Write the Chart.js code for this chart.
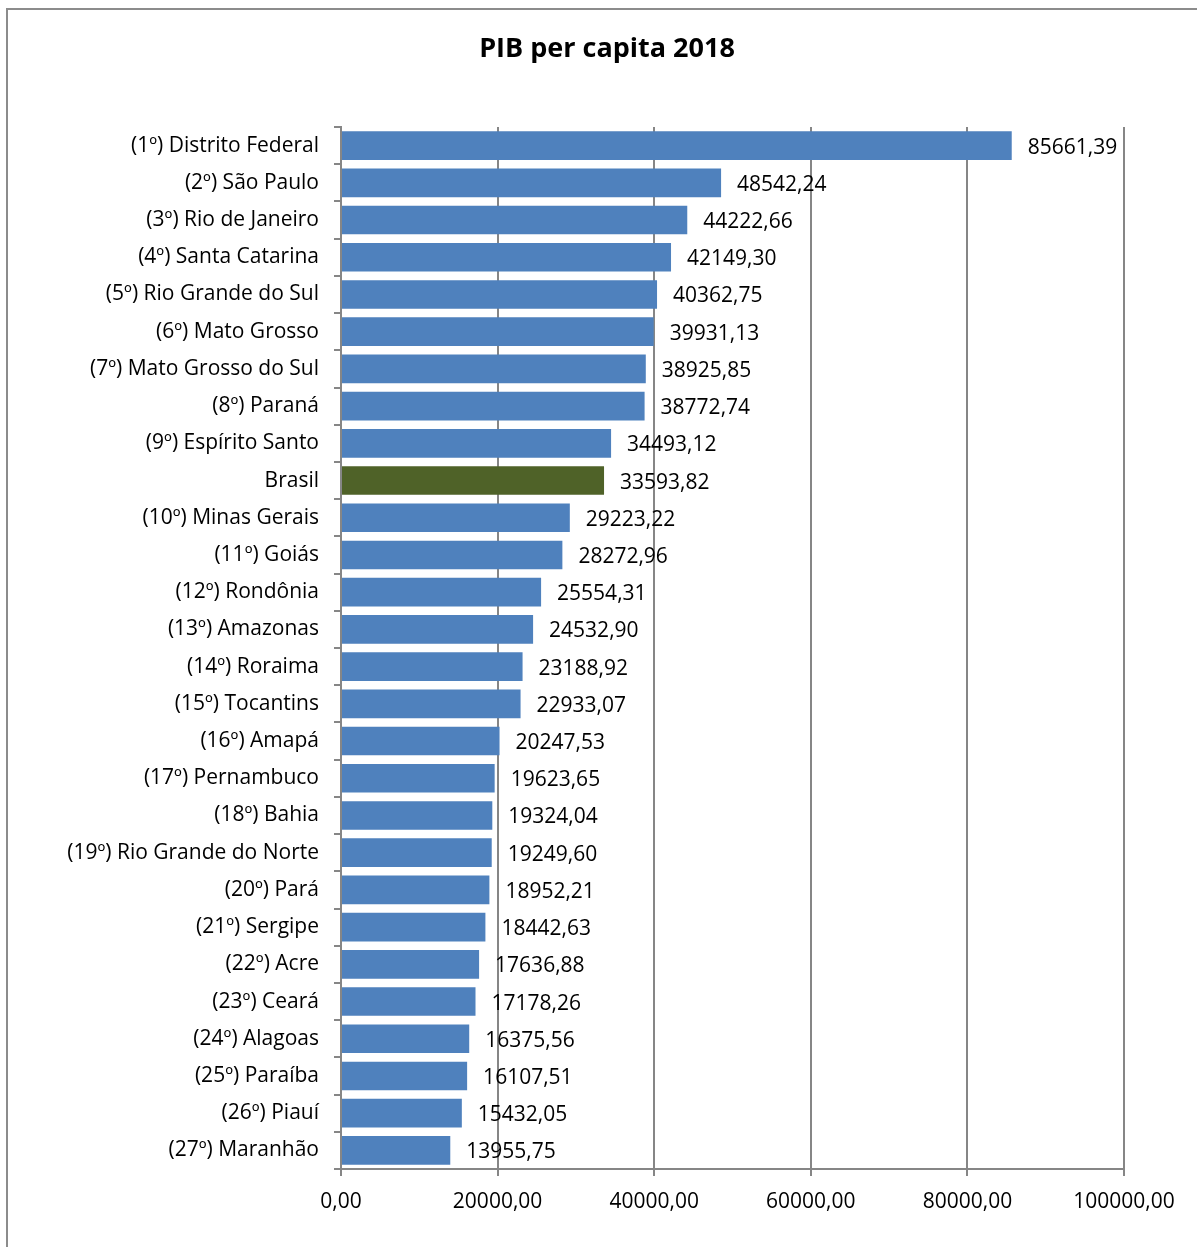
<!DOCTYPE html>
<html>
<head>
<meta charset="utf-8">
<script src="https://cdn.jsdelivr.net/npm/chart.js@4/dist/chart.umd.min.js"></script>
<style>
  html, body { margin: 0; padding: 0; background: #fff; overflow: hidden; }
  #wrap { position: relative; width: 1197px; height: 1247px; }
  #frame { position: absolute; left: 6px; top: 8px; width: 1200px; height: 1260px; border: 2px solid #8c8c8c; box-sizing: border-box; pointer-events: none; }
  canvas { position: absolute; left: 0; top: 0; }
</style>
</head>
<body>
<div id="wrap">
  <canvas id="chart" width="1197" height="1247"></canvas>
  <div id="frame"></div>
</div>
<script>
const TITLE = 'PIB per capita 2018'

const categories = [
  '(1º) Distrito Federal', '(2º) São Paulo', '(3º) Rio de Janeiro', '(4º) Santa Catarina',
  '(5º) Rio Grande do Sul', '(6º) Mato Grosso', '(7º) Mato Grosso do Sul', '(8º) Paraná',
  '(9º) Espírito Santo', 'Brasil', '(10º) Minas Gerais', '(11º) Goiás', '(12º) Rondônia',
  '(13º) Amazonas', '(14º) Roraima', '(15º) Tocantins', '(16º) Amapá', '(17º) Pernambuco',
  '(18º) Bahia', '(19º) Rio Grande do Norte', '(20º) Pará', '(21º) Sergipe', '(22º) Acre',
  '(23º) Ceará', '(24º) Alagoas', '(25º) Paraíba', '(26º) Piauí', '(27º) Maranhão'
]

const pibValues = [
  85661.39, 48542.24, 44222.66, 42149.30, 40362.75, 39931.13, 38925.85, 38772.74,
  34493.12, 33593.82, 29223.22, 28272.96, 25554.31, 24532.90, 23188.92, 22933.07,
  20247.53, 19623.65, 19324.04, 19249.60, 18952.21, 18442.63, 17636.88, 17178.26,
  16375.56, 16107.51, 15432.05, 13955.75
]

const xMin = 0
const xMax = 100000
const xStep = 20000

const BLUE  = '#4F81BD'
const GREEN = '#4F6228'
const GRID  = '#868686'
const FONT  = '"Open Sans", Lato, sans-serif'

const fmt = v => Number(v).toFixed(2).replace('.', ',')

// title centred on the whole frame, not the plot area
const titleText = {
  id: 'titleText',
  afterDraw(chart) {
    const { ctx } = chart
    ctx.save()
    ctx.font = `bold 27px ${FONT}`
    ctx.fillStyle = '#000'
    ctx.textAlign = 'center'
    ctx.textBaseline = 'middle'
    ctx.fillText(TITLE, 607, 49)
    ctx.restore()
  }
}

const valueLabels = {
  id: 'valueLabels',
  afterDatasetsDraw(chart) {
    const { ctx } = chart
    const meta = chart.getDatasetMeta(0)
    ctx.save()
    ctx.font = `21px ${FONT}`
    ctx.fillStyle = '#000'
    ctx.textAlign = 'left'
    ctx.textBaseline = 'middle'
    meta.data.forEach((bar, i) => {
      ctx.fillText(fmt(pibValues[i]), bar.x + 16, bar.y + 2)
    })
    ctx.restore()
  }
}

new Chart(document.getElementById('chart').getContext('2d'), {
  type: 'bar',
  data: {
    labels: categories,
    datasets: [{
      data: pibValues,
      backgroundColor: categories.map(c => c === 'Brasil' ? GREEN : BLUE),
      borderWidth: 0,
      barPercentage: 0.77,
      categoryPercentage: 1
    }]
  },
  options: {
    indexAxis: 'y',
    responsive: false,
    animation: false,
    devicePixelRatio: 1,
    layout: { padding: { left: 0, right: 73, top: 127, bottom: 0 } },
    scales: {
      x: {
        min: xMin, max: xMax,
        ticks: { stepSize: xStep, color: '#000', font: { family: FONT, size: 21 }, padding: 13, callback: v => fmt(v), maxRotation: 0 },
        grid: { color: GRID, lineWidth: 2, tickLength: 7, tickColor: GRID },
        border: { color: GRID, width: 2 },
        afterFit: s => { s.height = 78 }
      },
      y: {
        ticks: { color: '#000', font: { family: FONT, size: 21 }, padding: 15, autoSkip: false },
        grid: { display: true, drawOnChartArea: false, offset: true, tickLength: 7, color: GRID, tickColor: GRID, lineWidth: 2 },
        border: { color: GRID, width: 2 },
        afterFit: s => { s.width = 341 }
      }
    },
    plugins: {
      legend: { display: false },
      tooltip: { enabled: false },
      title: { display: false }
    }
  },
  plugins: [valueLabels, titleText]
})
</script>
</body>
</html>
